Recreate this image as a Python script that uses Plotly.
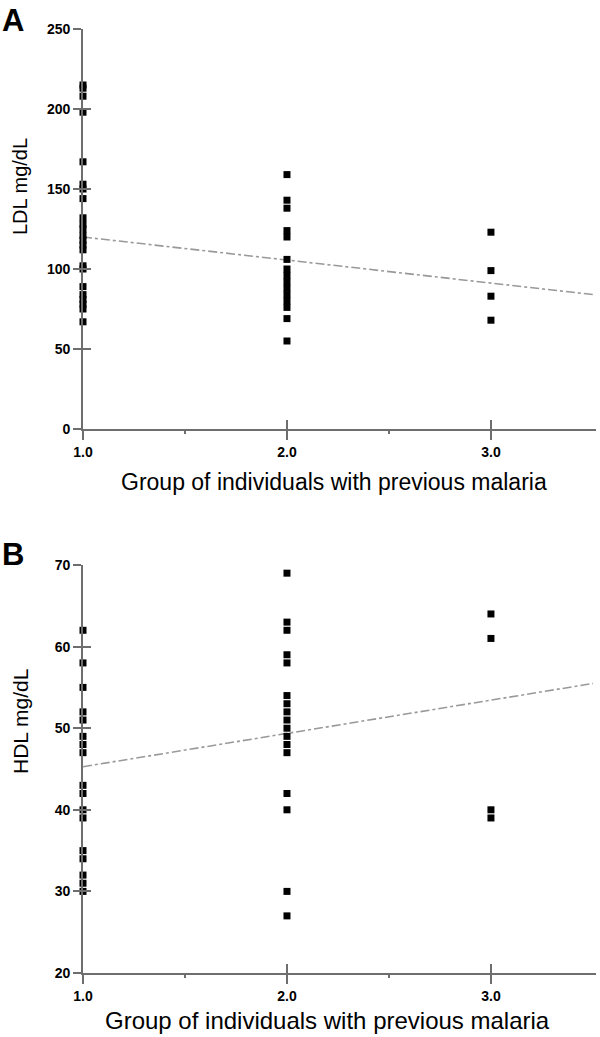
import plotly.graph_objects as go

W, H = 600, 1037

# ---- data ----
groups = [1.0, 2.0, 3.0]
ldl_g1 = [215, 213, 208, 198, 167, 153, 150, 144, 132, 128, 125, 121, 118, 115, 112, 102, 100, 89, 84, 81, 78, 75, 67]
ldl_g2 = [159, 143, 138, 124, 120, 106, 100, 96, 92, 88, 84, 80, 76, 69, 55]
ldl_g3 = [123, 99, 83, 68]
hdl_g1 = [62, 58, 55, 52, 51, 49, 48, 47, 43, 42, 40, 39, 35, 34, 32, 31, 30]
hdl_g2 = [69, 63, 62, 59, 58, 54, 53, 52, 51, 50, 49, 48, 47, 42, 40, 30, 27]
hdl_g3 = [64, 61, 40, 39]
# regression lines (intercept, slope)
ldl_fit = (134.4, -14.4)
hdl_fit = (41.2, 4.08)
fit_x = [1.0, 3.5]

x_ticks = [1.0, 2.0, 3.0]
x_ticktext = ["1.0", "2.0", "3.0"]
x_minor = [1.5, 2.5]
ldl_ticks = [0, 50, 100, 150, 200, 250]
hdl_ticks = [20, 30, 40, 50, 60, 70]
x_title = "Group of individuals with previous malaria"

def flat(gs):
    xs, ys = [], []
    for g, vals in zip(groups, gs):
        xs += [g] * len(vals)
        ys += vals
    return xs, ys

def py(px):
    return 1 - px / H

def px_(x):
    return x / W

FONT = "Liberation Sans, Arial, sans-serif"
AXC = "#6e6e6e"

fig = go.Figure()

panels = [
    ("x", "y", [ldl_g1, ldl_g2, ldl_g3], ldl_fit),
    ("x2", "y2", [hdl_g1, hdl_g2, hdl_g3], hdl_fit),
]
for xa, ya, gs, (b0, b1) in panels:
    xs, ys = flat(gs)
    fig.add_trace(go.Scatter(x=[fit_x[0], fit_x[1]], y=[b0 + b1 * fit_x[0], b0 + b1 * fit_x[1]],
                             mode="lines", xaxis=xa, yaxis=ya,
                             line=dict(color="#999999", width=1.6, dash="dashdot"),
                             showlegend=False, hoverinfo="skip"))
    fig.add_trace(go.Scatter(x=xs, y=ys, mode="markers", xaxis=xa, yaxis=ya,
                             marker=dict(symbol="square", size=7, color="black"),
                             cliponaxis=False, showlegend=False))

xdom = [px_(83), px_(596)]
ydomA = [py(429), py(29)]
ydomB = [py(973), py(565)]

tickfont = dict(family=FONT, size=14, color="black", weight="bold")

def xaxis(anchor):
    return dict(domain=xdom, range=[1.0, 3.515], anchor=anchor,
                tickmode="array", tickvals=x_ticks, ticktext=x_ticktext,
                ticks="outside", ticklen=9, tickwidth=1.5, tickcolor=AXC,
                showline=True, linecolor=AXC, linewidth=1.8,
                showgrid=False, zeroline=False, tickfont=tickfont, automargin=False,
                minor=dict(tickvals=x_minor, ticks="outside", ticklen=3, tickcolor=AXC, tickwidth=1.5, showgrid=False))

def yaxis(anchor, dom, rng, tv):
    return dict(domain=dom, range=rng, anchor=anchor,
                tickmode="array", tickvals=tv,
                ticks="outside", ticklen=8, tickwidth=1.5, tickcolor=AXC,
                showline=True, linecolor=AXC, linewidth=1.8, automargin=False,
                showgrid=False, zeroline=False, tickfont=tickfont)

fig.update_layout(
    width=W, height=H,
    margin=dict(l=0, r=0, t=0, b=0),
    paper_bgcolor="white", plot_bgcolor="white",
    xaxis=xaxis("y"),
    yaxis=yaxis("x", ydomA, [0, 250], ldl_ticks),
    xaxis2=xaxis("y2"),
    yaxis2=yaxis("x2", ydomB, [20, 70], hdl_ticks),
    # overlay axes to draw the inward half of the crossing ticks
    xaxis3=dict(domain=xdom, range=[1.0, 3.515], anchor="y", overlaying="x", side="bottom",
                tickmode="array", tickvals=x_ticks[1:], ticks="inside", ticklen=9, tickwidth=1.5,
                tickcolor=AXC, showticklabels=False, showline=False, showgrid=False, zeroline=False),
    xaxis4=dict(domain=xdom, range=[1.0, 3.515], anchor="y2", overlaying="x2", side="bottom",
                tickmode="array", tickvals=x_ticks[1:], ticks="inside", ticklen=9, tickwidth=1.5,
                tickcolor=AXC, showticklabels=False, showline=False, showgrid=False, zeroline=False),
    yaxis3=dict(domain=ydomA, range=[0, 250], anchor="x", overlaying="y", side="left",
                tickmode="array", tickvals=ldl_ticks[1:], ticks="inside", ticklen=8, tickwidth=1.5,
                tickcolor=AXC, showticklabels=False, showline=False, showgrid=False, zeroline=False),
    yaxis4=dict(domain=ydomB, range=[20, 70], anchor="x2", overlaying="y2", side="left",
                tickmode="array", tickvals=hdl_ticks[1:], ticks="inside", ticklen=8, tickwidth=1.5,
                tickcolor=AXC, showticklabels=False, showline=False, showgrid=False, zeroline=False),
)

# invisible traces so overlay axes render
fig.add_trace(go.Scatter(x=[1.0], y=[0], xaxis="x3", yaxis="y3", mode="markers",
                         marker=dict(opacity=0), showlegend=False, hoverinfo="skip"))
fig.add_trace(go.Scatter(x=[1.0], y=[20], xaxis="x4", yaxis="y4", mode="markers",
                         marker=dict(opacity=0), showlegend=False, hoverinfo="skip"))

ann = [
    dict(text="<b>A</b>", x=px_(0), y=py(1), xanchor="left", yanchor="top", font=dict(size=31)),
    dict(text="<b>B</b>", x=px_(0), y=py(535), xanchor="left", yanchor="top", font=dict(size=31)),
    dict(text=x_title, x=px_(334), y=py(482), xanchor="center", yanchor="middle", font=dict(size=23)),
    dict(text=x_title, x=px_(327), y=py(1020), xanchor="center", yanchor="middle", font=dict(size=24)),
    dict(text="LDL mg/dL", x=px_(20), y=py(187), xanchor="center", yanchor="middle", textangle=-90, font=dict(size=20)),
    dict(text="HDL mg/dL", x=px_(20), y=py(722), xanchor="center", yanchor="middle", textangle=-90, font=dict(size=21)),
]
for a in ann:
    a.update(xref="paper", yref="paper", showarrow=False)
    a["font"].update(family=FONT, color="black")
    fig.add_annotation(**a)

fig.write_html("out.html", config={"displayModeBar": False},
               post_script="document.body.style.margin='0';document.body.style.overflow='hidden';")
